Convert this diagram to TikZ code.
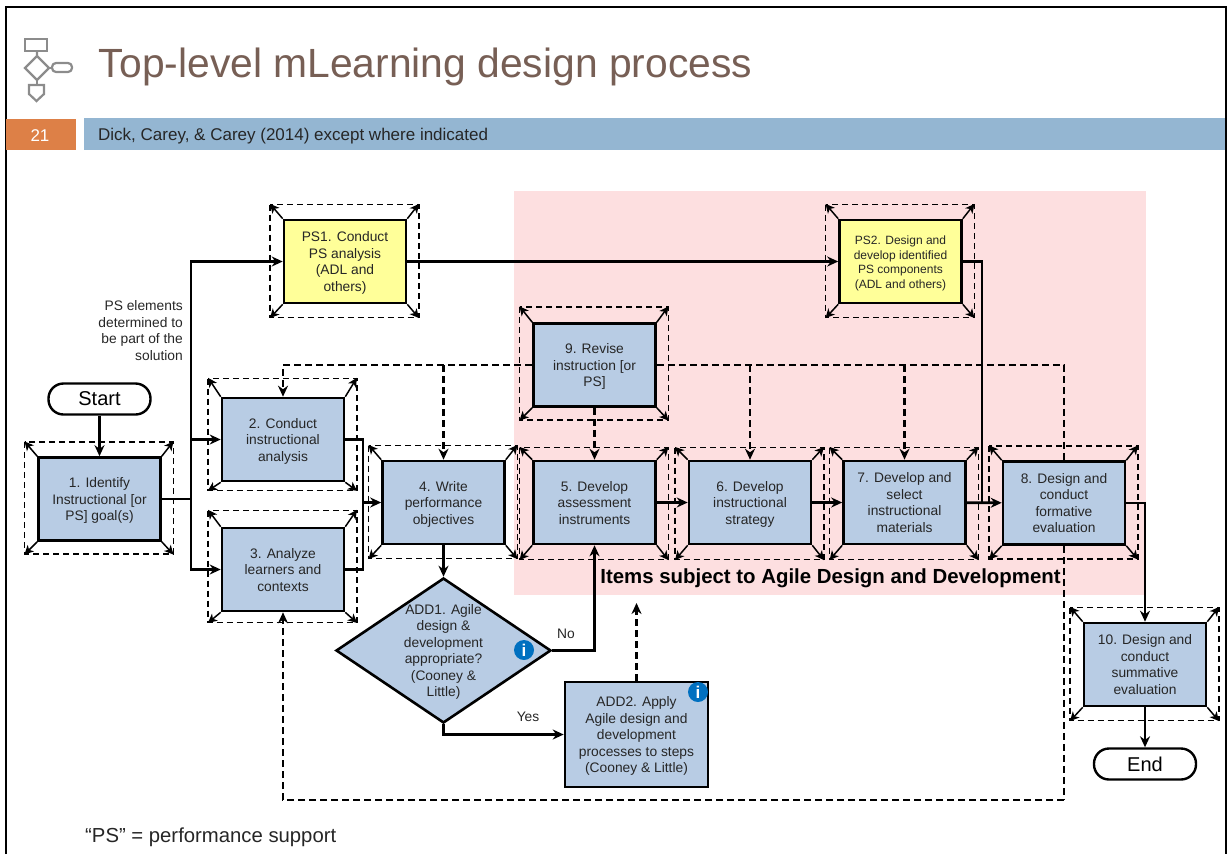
\documentclass[tikz,border=0pt]{standalone}
\usepackage{fontspec}
\setmainfont{Liberation Sans}
\usetikzlibrary{shapes.geometric,arrows.meta}
\definecolor{stepblue}{HTML}{B8CCE4}
\definecolor{psyellow}{HTML}{FFFF99}
\definecolor{agilepink}{HTML}{FDDFE0}
\definecolor{bandblue}{HTML}{94B6D2}
\definecolor{bandorange}{HTML}{DD8047}
\definecolor{titlebrown}{HTML}{775F55}
\definecolor{infoblue}{HTML}{0070C0}
\definecolor{icongray}{HTML}{8C8C8C}
\newcommand{\bodyfont}{\fontsize{13.8}{16.5}\selectfont}
\newcommand{\topgap}{\rule{0pt}{15pt}}
\begin{document}
\begin{tikzpicture}[>={Stealth[length=11pt,width=10pt]}, x=1pt, y=-1pt,
    evenlines/.style={execute at end node={\rule[-5pt]{0pt}{5pt}}},
    stepbox/.style={draw, line width=2.6pt, fill=stepblue, minimum width=122pt, minimum height=83pt, inner sep=0pt, align=center, text=black!85, font=\bodyfont, evenlines},
    psbox/.style={stepbox, fill=psyellow},
    termbox/.style={draw, line width=2.4pt, fill=white, rounded corners=15pt, minimum width=102pt, minimum height=31pt, inner sep=0pt, font=\fontsize{20}{24}\selectfont},
    flow/.style={->, line width=2.6pt},
    plainflow/.style={line width=2.6pt},
    backflow/.style={line width=2.5pt, dash pattern=on 7pt off 4pt},
    frameline/.style={line width=1.5pt, dash pattern=on 6pt off 4pt},
    framearrow/.style={-{Stealth[length=9pt,width=9pt,inset=2.5pt]}, line width=1.5pt, shorten >=-1pt},
    infodot/.style={circle, fill=infoblue, minimum size=20pt, inner sep=0pt, text=white, font=\fontsize{17}{17}\selectfont\bfseries},
    note/.style={inner sep=0pt, align=right, text=black!85, font=\bodyfont},
    graybit/.style={draw=icongray, line width=2.2pt}]
\useasboundingbox (0,0) rectangle (1228,854);
\draw[line width=2pt] (6,854)--(6,7)--(1226,7)--(1226,854);
\fill[bandorange] (6,119) rectangle (76,150);
\fill[bandblue] (84,118) rectangle (1225,150);
\fill[agilepink] (514,191) rectangle (1146,595);
\draw[graybit] (25,39) rectangle (47,51);
\draw[graybit] (37,51)--(37,56)--(49,68)--(37,80)--(25,68)--(37,56);
\draw[graybit] (37,80)--(37,85);
\draw[graybit] (49,68)--(52,68);
\draw[graybit, rounded corners=4pt] (52,63) rectangle (72,72);
\draw[graybit] (29,85)--(44,85)--(44,94)--(36.5,101)--(29,94)--cycle;
\node (title) at (425.5,67) [inner sep=0pt, text=titlebrown, font=\fontsize{40.8}{46}\selectfont]{Top-level mLearning design process};
\node (pagenum) at (40,135.5) [inner sep=0pt, text=white, font=\fontsize{17}{20}\selectfont]{21};
\node (source) at (98,136) [anchor=west, inner sep=0pt, text=black!85, font=\fontsize{17}{20}\selectfont]{Dick, Carey, \& Carey (2014) except where indicated};

\node (start) at (99.5,399) [termbox]{Start};
\node (one) at (99.5,499) [stepbox]{\topgap 1. Identify\\Instructional [or\\PS] goal(s)};
\node (two) at (283,439.5) [stepbox]{\topgap 2. Conduct\\instructional\\analysis};
\node (three) at (283,569.5) [stepbox]{\topgap 3. Analyze\\learners and\\contexts};
\node (four) at (443.5,502.5) [stepbox]{\topgap 4. Write\\performance\\objectives};
\node (five) at (594.5,502.5) [stepbox]{\topgap 5. Develop\\assessment\\instruments};
\node (six) at (750,502.5) [stepbox]{\topgap 6. Develop\\instructional\\strategy};
\node (seven) at (904.5,502.5) [stepbox]{\topgap 7. Develop and\\select\\instructional\\materials};
\node (eight) at (1064,503) [stepbox]{\topgap 8. Design and\\conduct\\formative\\evaluation};
\node (nine) at (594.5,365) [stepbox]{\topgap 9. Revise\\instruction [or\\PS]};
\node (ten) at (1145,664.5) [stepbox]{\topgap 10. Design and\\conduct\\summative\\evaluation};
\node (psone) at (345,261.5) [psbox]{\topgap PS1. Conduct\\PS analysis\\(ADL and\\others)};
\node (pstwo) at (900.5,261.5) [psbox, font=\fontsize{12}{14.5}\selectfont]{\topgap PS2. Design and\\develop identified\\PS components\\(ADL and others)};
\node (end) at (1145,764) [termbox]{End};
\node (addone) at (443.5,650.5) [diamond, draw, line width=2.6pt, fill=stepblue, minimum width=215pt, minimum height=145pt, inner sep=0pt]{};
\node (addonetext) at (443.5,650.5) [note, align=center, evenlines]{\topgap ADD1. Agile\\design \&\\development\\appropriate?\\(Cooney \&\\Little)};
\node (addtwo) at (636.5,734.5) [stepbox, minimum width=143pt, minimum height=105pt]{\topgap ADD2. Apply\\Agile design and\\development\\processes to steps\\(Cooney \& Little)};
\node (infoone) at (524,650) [infodot]{i};
\node (infotwo) at (698,692) [infodot]{i};

\foreach \n/\t/\b in {one/14/12, two/18/8, three/16/10, four/14/13, five/12/14, six/12/14, seven/12/14, eight/14/13, nine/15/12, ten/14/13, psone/14/13, pstwo/14/13}{
    \draw[frameline] ([shift={(-12.5,-\t)}]\n.north west) rectangle ([shift={(11.5,\b)}]\n.south east);
    \draw[framearrow] (\n.north west)--([shift={(-12,-\t)}]\n.north west);
    \draw[framearrow] (\n.north east)--([shift={(11,-\t)}]\n.north east);
    \draw[framearrow] (\n.south west)--([shift={(-12,\b)}]\n.south west);
    \draw[framearrow] (\n.south east)--([shift={(11,\b)}]\n.south east);
}

\coordinate (split) at (191,499);
\coordinate (join) at (363,502.5);
\coordinate (merge) at (982,503);
\coordinate (back) at (1064,800);
\coordinate (agileup) at (636.5,603);
\draw[flow] (start)--(one);
\draw[plainflow] (one)--(split);
\draw[flow] (split)|-(psone);
\draw[flow] (split)|-(two);
\draw[flow] (split)|-(three);
\draw[plainflow] (two)-|(join);
\draw[plainflow] (three)-|(join);
\draw[flow] (join)--(four);
\draw[flow] (four)--(addone);
\draw[flow] (addone.east)-|(five.south);
\draw[flow] (addone.south)|-(addtwo.west);
\draw[->, backflow] (addtwo)--(agileup);
\draw[flow] (psone)--(pstwo);
\draw[plainflow] (pstwo)-|(merge);
\draw[flow] (five)--(six);
\draw[flow] (six)--(seven);
\draw[flow] (seven)--(eight);
\draw[flow] (eight)-|(ten);
\draw[flow] (ten)--(end);
\draw[->, backflow] (nine)-|(two);
\draw[->, backflow] (nine.west-|four.north)--(four);
\draw[->, backflow] (nine)--(five);
\draw[->, backflow] (nine.east-|six.north)--(six);
\draw[->, backflow] (nine.east-|seven.north)--(seven);
\draw[backflow] (nine)-|(eight);
\draw[backflow] (eight)--(back);
\draw[->, backflow] (back)-|(three);

\node (elements) at (183,330.5) [note, anchor=east]{PS elements\\determined to\\be part of the\\solution};
\node (no) at (566,634) [inner sep=0pt, text=black!85, font=\bodyfont]{No};
\node (yes) at (528,717) [inner sep=0pt, text=black!85, font=\bodyfont]{Yes};
\node (agile) at (830.5,578) [inner sep=0pt, font=\fontsize{20.4}{24}\selectfont\bfseries]{Items subject to Agile Design and Development};
\node (psnote) at (85,837.5) [anchor=west, inner sep=0pt, text=black!85, font=\fontsize{20.3}{24}\selectfont]{“PS” = performance support};
\end{tikzpicture}
\end{document}
